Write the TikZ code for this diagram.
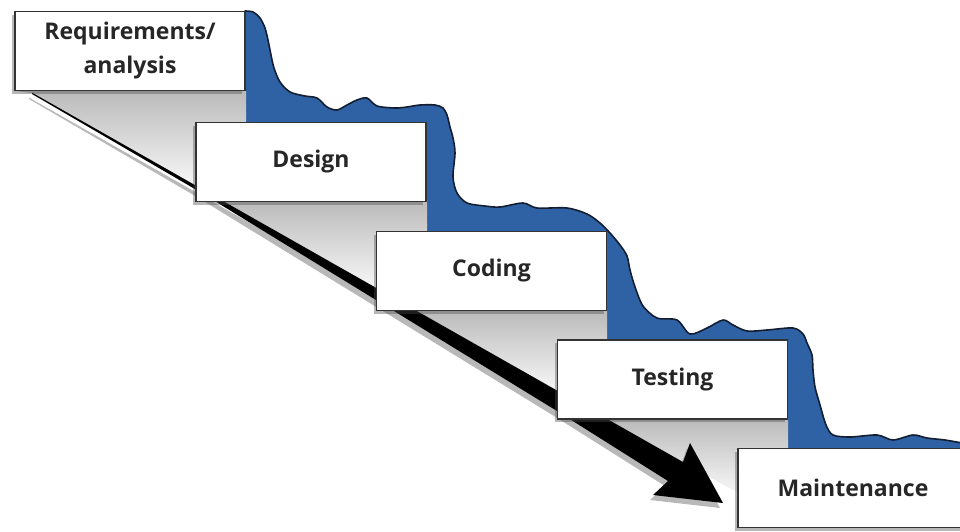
\documentclass[tikz,border=0pt]{standalone}
\usepackage{fontspec}
\setmainfont{Open Sans}
\usetikzlibrary{shadows}
\definecolor{waterblue}{RGB}{46,98,164}
\definecolor{waveline}{RGB}{20,30,50}
\begin{document}
\begin{tikzpicture}[x=1pt,y=-1pt,
  stepbox/.style={draw=black!80, line width=1.3pt, fill=white,
    minimum width=230pt, minimum height=79pt, inner sep=0pt,
    font=\fontsize{23}{34}\selectfont\bfseries, text=black!85, align=center,
    drop shadow={shadow xshift=-3pt, shadow yshift=-3pt, opacity=0.4, fill=black!70}},
  wedge/.style={top color=black!27, middle color=black!9, bottom color=black!3},
  waterfill/.style={fill=waterblue},
  waveedge/.style={draw=waveline, line width=1.6pt, line join=round, line cap=round},
  arrowbody/.style={fill=black},
  arrowshade/.style={fill=black!35, opacity=0.8, transform canvas={xshift=-3pt, yshift=-5pt}}]
\useasboundingbox (0,0) rectangle (960,531);
\clip (0,0) rectangle (960,531);

% water (blue wavy band behind the steps)
\fill[waterfill] plot[smooth, tension=0.5] coordinates {
 (245,11) (253,12) (260,18) (265,28) (268,40) (271,55) (274,68) (280,82) (290,92)
 (305,96) (317,98) (327,107) (337,110) (347,105) (357,100) (367,98) (377,106)
 (395,108) (407,107) (420,105) (435,105) (443,108) (447,115) (450,127) (453,138)
 (455,153) (453,177) (457,193) (467,203) (485,206) (500,207) (523,203) (537,208)
 (567,208) (587,214) (600,223) (610,233) (620,245) (627,256) (630,270) (635,287)
 (643,306) (657,318) (677,320) (690,334) (707,328) (723,320) (733,325) (747,331)
 (767,330) (793,328) (803,334) (807,343) (812,355) (813,370) (815,387) (820,405)
 (826,425) (833,435) (850,437) (877,435) (893,440) (913,435) (927,438) (945,440)
 (962,443)}
 -- (962,449) -- (787,449) -- (787,340) -- (606,340) -- (606,231) -- (426,231)
 -- (426,122) -- (245,122) -- cycle;
\draw[waveedge] plot[smooth, tension=0.5] coordinates {
 (245,11) (253,12) (260,18) (265,28) (268,40) (271,55) (274,68) (280,82) (290,92)
 (305,96) (317,98) (327,107) (337,110) (347,105) (357,100) (367,98) (377,106)
 (395,108) (407,107) (420,105) (435,105) (443,108) (447,115) (450,127) (453,138)
 (455,153) (453,177) (457,193) (467,203) (485,206) (500,207) (523,203) (537,208)
 (567,208) (587,214) (600,223) (610,233) (620,245) (627,256) (630,270) (635,287)
 (643,306) (657,318) (677,320) (690,334) (707,328) (723,320) (733,325) (747,331)
 (767,330) (793,328) (803,334) (807,343) (812,355) (813,370) (815,387) (820,405)
 (826,425) (833,435) (850,437) (877,435) (893,440) (913,435) (927,438) (945,440)
 (962,443)};

% grey step faces
\shade[wedge] (15,91) -- (246,91) -- (246,122) -- (196,122) -- (196,186) -- (32,93) -- cycle;
\shade[wedge] (221,200) -- (427,200) -- (427,231) -- (377,231) -- (377,288.6) -- cycle;
\shade[wedge] (415,310) -- (607,310) -- (607,340) -- (558,340) -- (558,391.2) -- cycle;
\shade[wedge] (605,418) -- (788,418) -- (788,448) -- (738,448) -- (738,493) -- cycle;

% arrow outline points
\coordinate (a0u) at (32,92.6);
\coordinate (a1u) at (683,462);
\coordinate (bu) at (690,443);
\coordinate (tip) at (723,503);
\coordinate (bl) at (653,495);
\coordinate (a1l) at (668,481);
\coordinate (l2) at (557,411);
\coordinate (l1) at (200,192);
\coordinate (a0l) at (32,94);

\fill[arrowshade] (a0u) -- (a1u) -- (bu) -- (tip) -- (bl) -- (a1l) -- (l2) -- (l1) -- (a0l) -- cycle;
\fill[arrowbody] (a0u) -- (a1u) -- (bu) -- (tip) -- (bl) -- (a1l) -- (l2) -- (l1) -- (a0l) -- cycle;

% steps
\node[stepbox] (req) at (130,51) {Requirements/\\analysis};
\node[stepbox] (des) at (311,162) {Design};
\node[stepbox] (cod) at (491.5,271) {Coding};
\node[stepbox] (tes) at (672.5,379.5) {Testing};
\node[stepbox] (mai) at (853,488) {Maintenance};
\end{tikzpicture}
\end{document}
